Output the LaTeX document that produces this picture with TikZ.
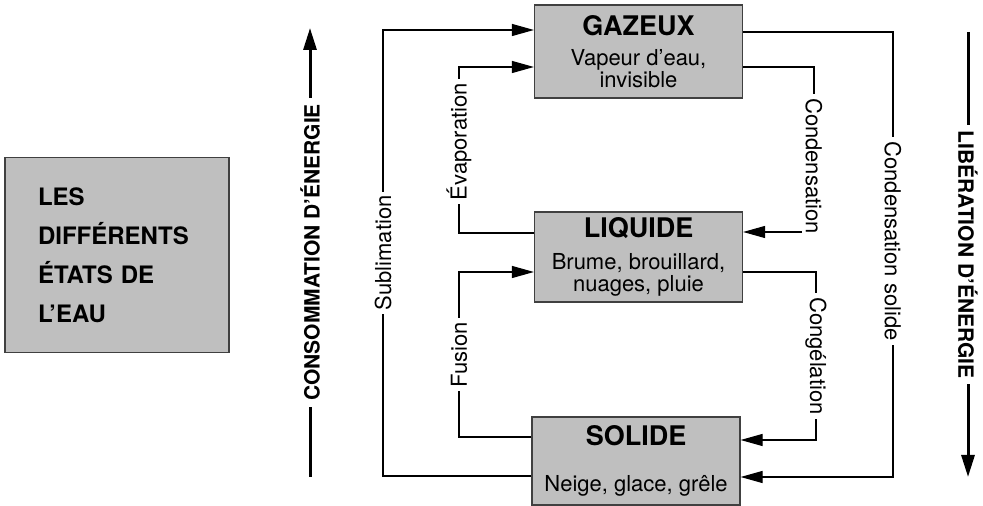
\documentclass[tikz,border=0pt]{standalone}
\usepackage{fontspec}
\setmainfont{TeX Gyre Heros}
\usetikzlibrary{arrows.meta}

\begin{document}
\begin{tikzpicture}[x=0.5pt,y=-0.5pt,
etat/.style={draw=black!75,fill=gray!50,line width=0.6pt,minimum width=104pt,minimum height=45pt,align=center,inner sep=0pt,font=\fontsize{11}{11}\selectfont},
titre/.style={draw=black!75,fill=gray!50,line width=0.6pt,minimum width=112pt,minimum height=97.5pt,text width=79pt,align=left,font=\bfseries\fontsize{12}{19.5}\selectfont},
trans/.style={line width=0.6pt,-{Triangle[length=11pt,width=6pt]}},
lbl/.style={fill=white,font=\fontsize{11}{13}\selectfont,inner sep=2pt},
energie/.style={line width=1.5pt,-{Triangle[length=11pt,width=6.5pt]}},
elbl/.style={fill=white,font=\bfseries\fontsize{10.5}{12}\selectfont,inner sep=3pt}
]
\useasboundingbox (0,0) rectangle (983,506);

% titre
\node[titre] (titre) at (117,255) {LES\\DIFFÉRENTS\\ÉTATS DE\\L’EAU};

% les trois etats
\node[etat,minimum height=46.5pt] (gaz) at (638.5,51.5) {{\bfseries\fontsize{13.5}{13.5}\selectfont GAZEUX}\\[4pt]Vapeur d’eau,\\[0pt]invisible};
\node[etat] (liq) at (638.5,257) {{\bfseries\fontsize{13.5}{13.5}\selectfont LIQUIDE}\\[5pt]Brume, brouillard,\\[0pt]nuages, pluie};
\node[etat,minimum height=44pt] (sol) at (636,461) {{\bfseries\fontsize{13.5}{13.5}\selectfont SOLIDE}\\[12pt]Neige, glace, grêle};

% energie
\coordinate (consoBas) at (310,477);
\coordinate (consoHaut) at (310,28);
\coordinate (libHaut) at (968,32);
\coordinate (libBas) at (968,477);
\draw[energie] (consoBas) -- node[elbl,rotate=90]{CONSOMMATION D’ÉNERGIE} (consoHaut);
\draw[energie] (libHaut) -- node[elbl,rotate=-90]{LIBÉRATION D’ÉNERGIE} (libBas);

% changements d'etat (gauche)
\draw[trans] (sol.west |- 0,476) -- (383,476) -- node[lbl,rotate=90]{Sublimation} (383,30) -- (gaz.west |- 0,30);
\draw[trans] (liq.west |- 0,233) -- (459,233) -- node[lbl,rotate=90,pos=0.55]{Évaporation} (459,67) -- (gaz.west |- 0,67);
\draw[trans] (sol.west |- 0,437) -- (459,437) -- node[lbl,rotate=90]{Fusion} (459,272) -- (liq.west |- 0,272);

% changements d'etat (droite)
\draw[trans] (gaz.east |- 0,67) -- (814,67) -- node[lbl,rotate=-90,pos=0.6]{Condensation} (814,232) -- (liq.east |- 0,232);
\draw[trans] (liq.east |- 0,272) -- (816,272) -- node[lbl,rotate=-90]{Congélation} (816,440) -- (sol.east |- 0,440);
\draw[trans] (gaz.east |- 0,32) -- (893,32) -- node[lbl,rotate=-90,pos=0.47]{Condensation solide} (893,477) -- (sol.east |- 0,477);
\end{tikzpicture}
\end{document}
